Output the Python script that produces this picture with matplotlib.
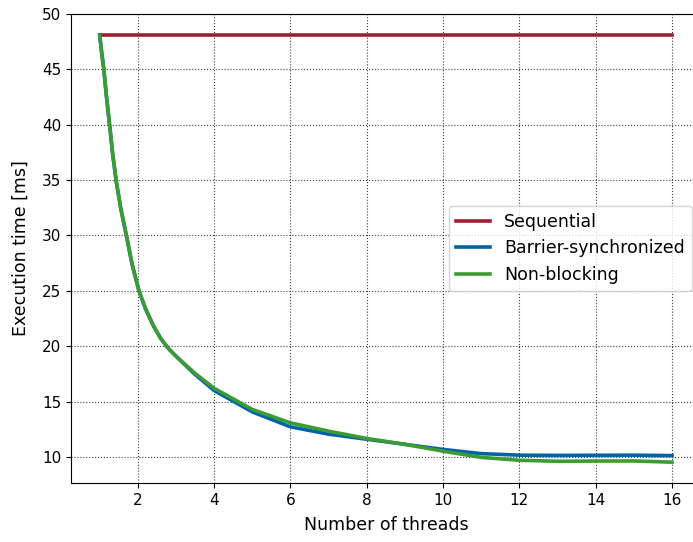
import matplotlib
matplotlib.use("Agg")
import matplotlib.pyplot as plt

# values
seq_threads = [1, 16]
seq_time = [48.1, 48.1]

threads = [1, 1.05, 1.11, 1.18, 1.26, 1.34, 1.43, 1.55, 1.7, 1.85, 2.03, 2.2, 2.4, 2.6, 2.8, 3, 3.5, 4,
           5, 6, 7, 8, 9, 10, 11, 12, 13, 14, 15, 16]
barrier_time = [48.1, 46.6, 45.0, 42.5, 40.0, 37.4, 35.0, 32.5, 30.0, 27.4, 25.0, 23.4, 21.9, 20.7, 19.8, 19.1,
                17.45, 16.0, 14.07, 12.72, 12.06, 11.6, 11.14, 10.68, 10.3, 10.16, 10.14, 10.15, 10.16, 10.12]
nonblocking_time = [48.1, 46.6, 45.0, 42.5, 40.0, 37.4, 35.0, 32.5, 30.0, 27.4, 25.0, 23.4, 21.9, 20.7, 19.8, 19.1,
                    17.55, 16.2, 14.29, 13.08, 12.33, 11.67, 11.14, 10.52, 9.96, 9.7, 9.61, 9.63, 9.64, 9.53]

xticks = [2, 4, 6, 8, 10, 12, 14, 16]
yticks = [10, 15, 20, 25, 30, 35, 40, 45, 50]

fig = plt.figure(figsize=(6.93, 5.42), dpi=100)
ax = fig.add_axes([0.1025, 0.1089, 0.9085, 0.8653])

ax.plot(seq_threads, seq_time, color='#a01c34', lw=2.6, label='Sequential')
ax.plot(threads, barrier_time, color='#0063a8', lw=2.6, label='Barrier-synchronized')
ax.plot(threads, nonblocking_time, color='#3d9b35', lw=2.6, label='Non-blocking')

ax.set_xlim(0.25, 16.75)
ax.set_ylim(7.65, 50)
ax.set_xticks(xticks)
ax.set_yticks(yticks)
ax.tick_params(labelsize=11)
ax.grid(True, color='0.25', linestyle=':', linewidth=0.8)

ax.set_xlabel('Number of threads', fontsize=12.5, labelpad=6)
ax.set_ylabel('Execution time [ms]', fontsize=12.5, labelpad=9)
ax.legend(loc='center right', fontsize=12.5)

fig.savefig('out.png', dpi=100)
